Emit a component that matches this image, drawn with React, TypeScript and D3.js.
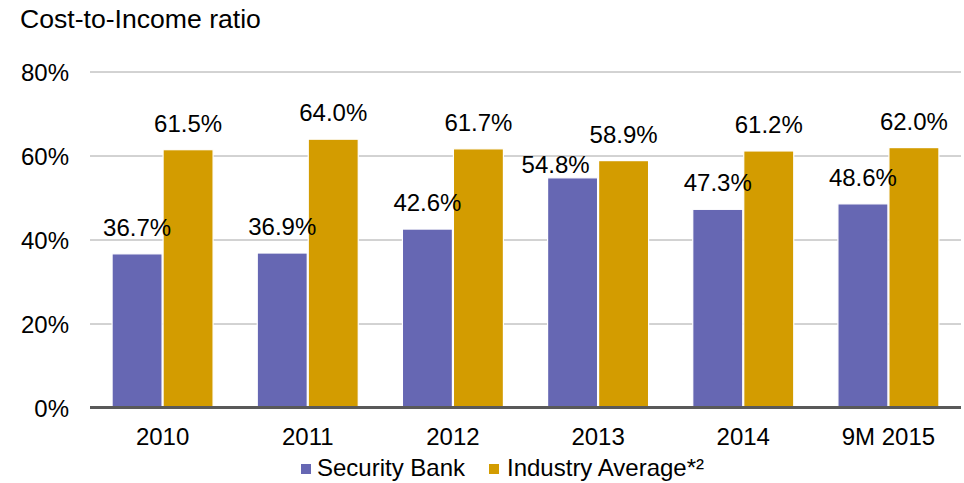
import React from "react";
import * as d3 from "d3";

const categories = ["2010", "2011", "2012", "2013", "2014", "9M 2015"];
const securityBank = [36.7, 36.9, 42.6, 54.8, 47.3, 48.6];
const industryAverage = [61.5, 64.0, 61.7, 58.9, 61.2, 62.0];
const yTicks = [0, 20, 40, 60, 80];
const seriesNames = ["Security Bank", "Industry Average*²"];
const colors = ["#6667B3", "#D39C00"];

export default function App() {
  const W = 964, H = 483;
  const left = 90, right = 961, top = 72, bottom = 408;
  const x = d3.scaleBand<string>().domain(categories).range([left, right]).paddingInner(0).paddingOuter(0);
  const y = d3.scaleLinear().domain([0, 80]).range([bottom, top]);
  const bw = 50;
  const gap = 1;
  const font = "'Liberation Sans', Arial, sans-serif";
  const series = [securityBank, industryAverage];
  const fs = 24;
  const labelW = 68;
  const labelH = 18;
  return (
    <svg width={W} height={H} style={{ position: "absolute", left: 0, top: 0 }} fontFamily={font}>
      <rect width={W} height={H} fill="#fff" />
      <text x={20} y={28} fontSize={26.6} fill="#000">Cost-to-Income ratio</text>
      {yTicks.map((t) => (
        <g key={t}>
          {t > 0 && <line x1={left} x2={right} y1={y(t)} y2={y(t)} stroke="#A6A6A6" strokeWidth={1} />}
          <text x={69} y={y(t) + 8.5} fontSize={fs} textAnchor="end" fill="#000">{t}%</text>
        </g>
      ))}
      {categories.map((c, i) => {
        const cx = x(c)! + x.bandwidth() / 2;
        return (
          <g key={c}>
            {series.map((s, j) => {
              const bx = j === 0 ? cx - gap / 2 - bw : cx + gap / 2;
              return (
                <rect key={j} x={bx} y={y(s[i])} width={bw} height={bottom - y(s[i])} fill={colors[j]} stroke="#fff" strokeWidth={1.2} />
              );
            })}
            <text x={cx} y={445} fontSize={fs} textAnchor="middle" fill="#000">{c}</text>
          </g>
        );
      })}
      {categories.map((c, i) => {
        const cx = x(c)! + x.bandwidth() / 2;
        const goldX = cx + gap / 2 + bw / 2;
        const goldY = y(industryAverage[i]) - 18;
        let blueX = cx - gap / 2 - bw / 2;
        let blueY = y(securityBank[i]) - 18;
        // avoid collision with the neighbouring label
        const overlapX = blueX + labelW / 2 > goldX - labelW / 2;
        const overlapY = Math.abs(blueY - goldY) < labelH + 4;
        if (overlapX && overlapY) {
          blueX -= 17;
          blueY = y(securityBank[i]) - 5;
        }
        return (
          <g key={"l" + c}>
            <text x={blueX} y={blueY} fontSize={fs} textAnchor="middle" fill="#000">
              {securityBank[i].toFixed(1)}%
            </text>
            <text x={goldX} y={goldY} fontSize={fs} textAnchor="middle" fill="#000">
              {industryAverage[i].toFixed(1)}%
            </text>
          </g>
        );
      })}
      <line x1={left} x2={right} y1={bottom - 0.5} y2={bottom - 0.5} stroke="#595959" strokeWidth={3} />
      <g>
        <rect x={301} y={464} width={10} height={10} fill={colors[0]} />
        <text x={317} y={476} fontSize={fs} fill="#000">{seriesNames[0]}</text>
        <rect x={489} y={464} width={10} height={10} fill={colors[1]} />
        <text x={507} y={476} fontSize={fs} fill="#000">{seriesNames[1]}</text>
      </g>
    </svg>
  );
}
